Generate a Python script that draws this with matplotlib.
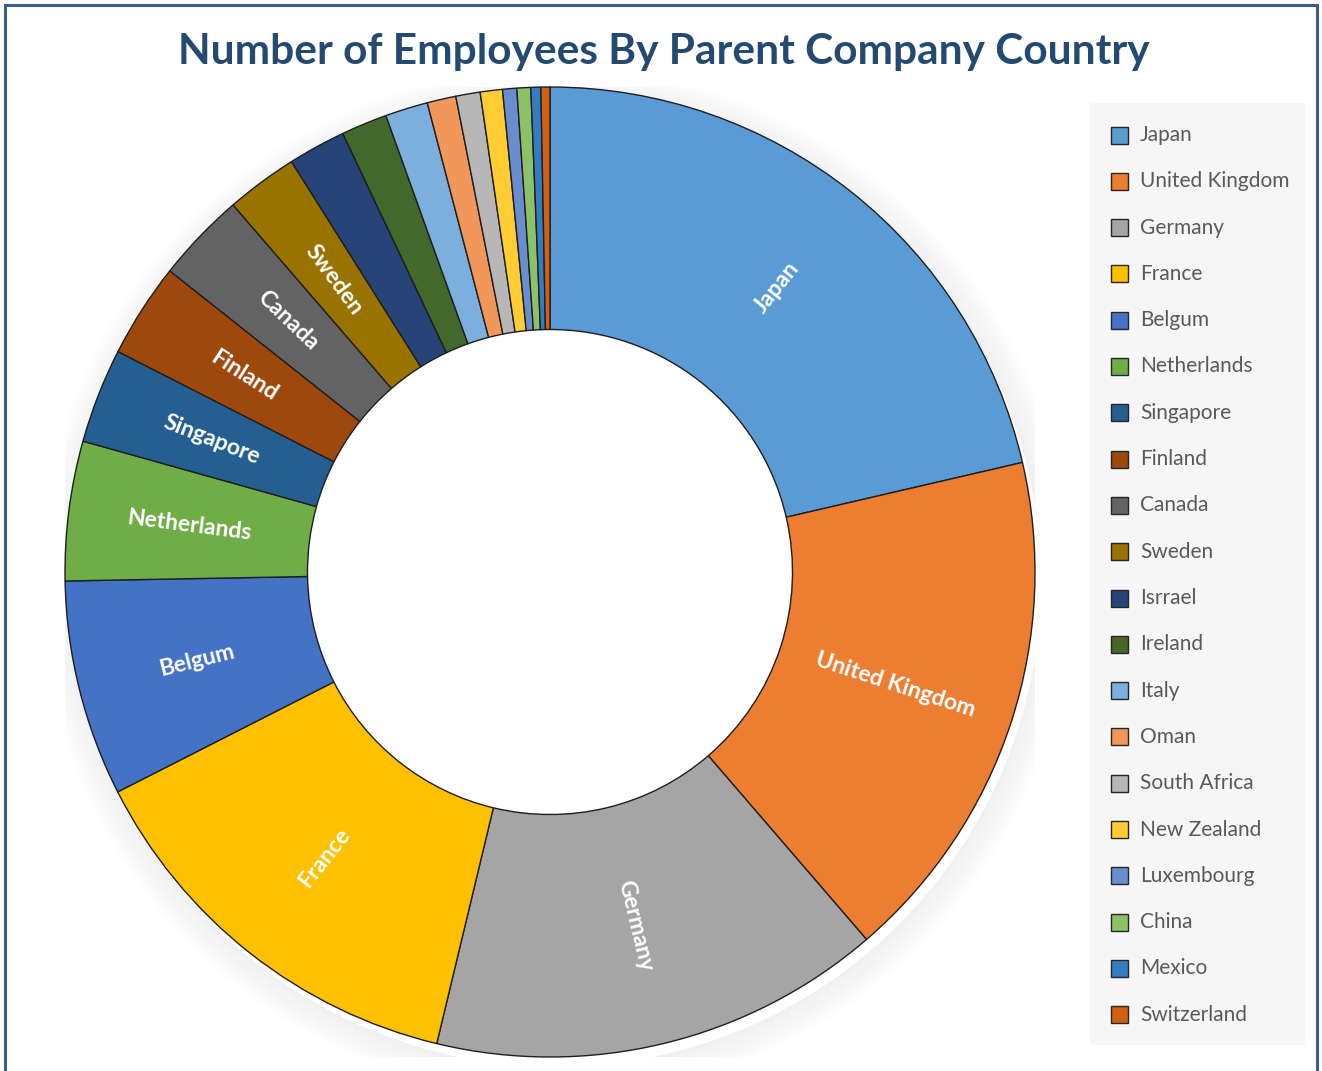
import matplotlib
matplotlib.use('Agg')
import matplotlib.pyplot as plt
from matplotlib.patches import Rectangle, Wedge
import numpy as np

# ---------------- data ----------------
countries = ["Japan", "United Kingdom", "Germany", "France", "Belgum", "Netherlands",
             "Singapore", "Finland", "Canada", "Sweden", "Isrrael", "Ireland", "Italy",
             "Oman", "South Africa", "New Zealand", "Luxembourg", "China", "Mexico",
             "Switzerland"]
shares = [21.36, 17.30, 15.06, 13.75, 7.19, 4.64, 3.16, 3.15, 3.00, 2.39, 1.92,
          1.53, 1.42, 0.96, 0.81, 0.74, 0.47, 0.46, 0.33, 0.30]
colors = ["#5B9BD5", "#ED7D31", "#A5A5A5", "#FFC000", "#4472C4", "#70AD47",
          "#255E91", "#9E480E", "#636363", "#997300", "#264478", "#43682B",
          "#7CAFDD", "#F1975A", "#B7B7B7", "#FFCD33", "#698ED0", "#8CC168",
          "#327DC2", "#D26012"]
n_labeled = 10
title = "Number of Employees By Parent Company Country"

# ---------------- figure ----------------
W, H = 1322, 1071
fig = plt.figure(figsize=(W / 100, H / 100), dpi=100)
fig.patch.set_facecolor("white")

# outer frame of the chart
frame = Rectangle((5 / W, -0.02), (1317 - 5) / W, (H - 5) / H + 0.02,
                  transform=fig.transFigure, fill=False, edgecolor="#3B5E8C",
                  linewidth=2.2)
fig.add_artist(frame)

cx, cy, R = 550, 572, 485
ax = fig.add_axes([(cx - R) / W, (H - cy - R) / H, 2 * R / W, 2 * R / H])

# soft shadow
for k in range(16):
    ax.add_patch(Wedge((0.012, -0.020), 1.0 + 0.004 * (k + 1), 0, 360, width=0.004,
                       facecolor="black", edgecolor="none",
                       alpha=0.06 * (1 - k / 16)))

wedges, _ = ax.pie(shares, colors=colors, startangle=90, counterclock=False,
                   radius=1.0,
                   wedgeprops=dict(width=0.5, edgecolor="#1E1E1E", linewidth=1.0))
ax.set_xlim(-1, 1)
ax.set_ylim(-1, 1)
ax.axis("off")

for w, name in zip(wedges[:n_labeled], countries[:n_labeled]):
    ang = (w.theta1 + w.theta2) / 2.0
    r = 0.75
    x, y = r * np.cos(np.radians(ang)), r * np.sin(np.radians(ang))
    rot = ((ang + 90) % 180) - 90
    ax.text(x, y, name, rotation=rot, rotation_mode="anchor", ha="center",
            va="center", color="white", fontweight="bold", family="Lato",
            fontsize=16.5)

# ---------------- legend ----------------
lx0, lx1, ly0, ly1 = 1090, 1305, 103, 1045
lax = fig.add_axes([lx0 / W, (H - ly1) / H, (lx1 - lx0) / W, (ly1 - ly0) / H])
step = 46.3
first = 135
lax.set_xlim(0, lx1 - lx0)
lax.set_ylim((ly1 - first) / step, -(first - ly0) / step)
lax.set_facecolor("#F6F6F6")
for s in lax.spines.values():
    s.set_visible(False)
lax.set_xticks([])
lax.set_yticks([])
sq = 17
for i, (name, c) in enumerate(zip(countries, colors)):
    lax.add_patch(Rectangle((21, i - sq / step / 2), sq, sq / step, facecolor=c,
                            edgecolor="#262626", linewidth=1.0))
    lax.text(50, i, name, ha="left", va="center", color="#595959",
             family="Lato", fontsize=15)

# ---------------- title ----------------
t = fig.text(664 / W, 1 - 52 / H, title, ha="center", va="center",
             fontsize=30, fontweight="bold", color="#244A72", family="Lato")
fig.canvas.draw()
wpx = t.get_window_extent().width
t.set_fontsize(30 * 972 / wpx)

fig.savefig("out.png", dpi=100, facecolor="white")
